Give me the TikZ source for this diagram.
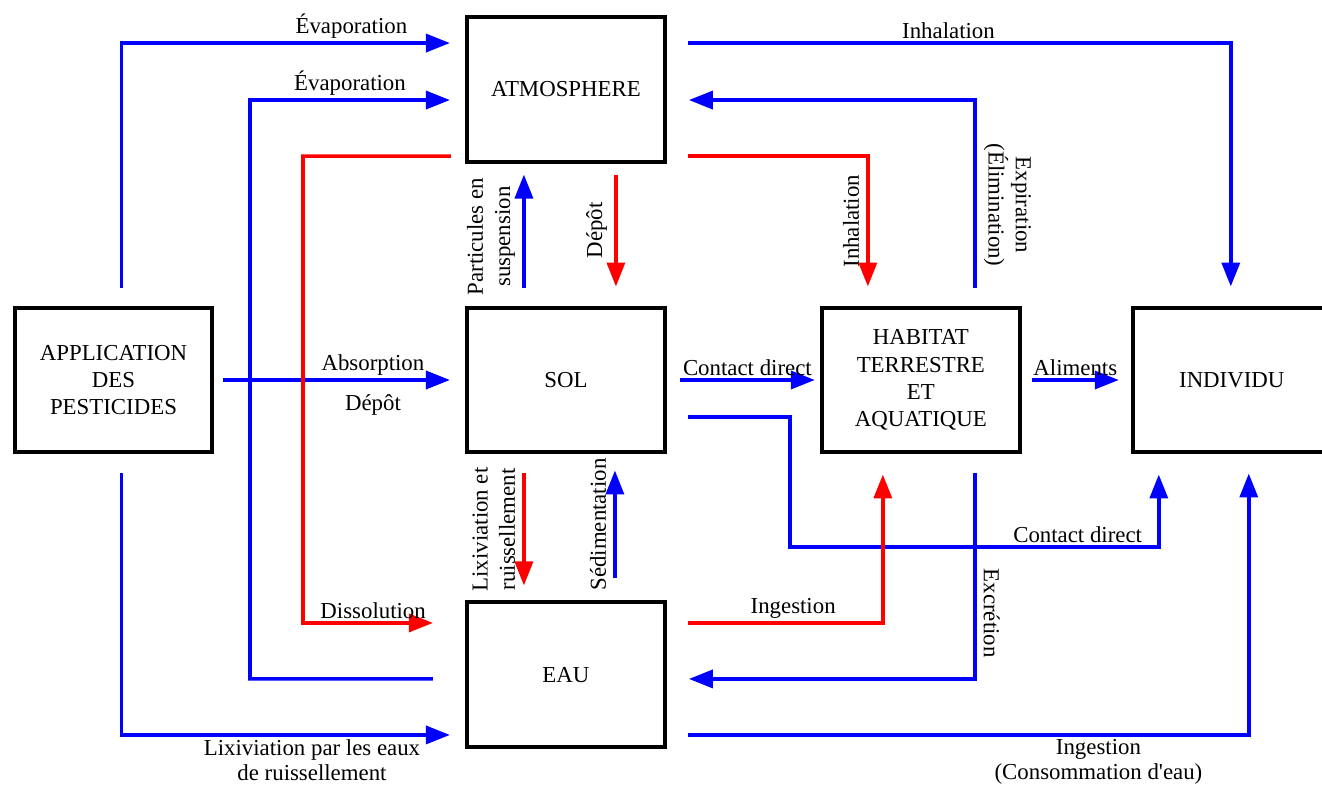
\documentclass[tikz,border=0pt]{standalone}
\usepackage{fontspec}
\setmainfont{Liberation Serif}
\usetikzlibrary{arrows,arrows.meta,positioning}
\tikzset{>={Triangle[length=0.48cm,width=0.36cm]},
         boite/.style={draw, line width=0.08cm, outer sep=0pt, inner sep=0pt,
                       minimum width=3.96cm, minimum height=2.9cm, align=center},
         fb/.style={->, draw=blue, line width=0.072cm},
         fr/.style={->, draw=red, line width=0.072cm},
         lab/.style={inner sep=1.5pt, align=center},
         vlab/.style={inner sep=4pt, align=center, rotate=90, anchor=south},
         vlabd/.style={inner sep=4pt, align=center, rotate=-90, anchor=south}}

\begin{document}
\begin{tikzpicture}[x=0.02cm, y=-0.02cm, font=\fontsize{13}{15.5}\selectfont]
	\useasboundingbox (0,0) rectangle (1322,787);

	% compartiments
	\node[boite] (app) at (113.5,380) {APPLICATION\\DES\\PESTICIDES};
	\node[boite, right=5.09cm of app] (sol) {SOL};
	\node[boite, above=2.92cm of sol] (atm) {ATMOSPHERE};
	\node[boite, below=3cm of sol] (eau) {EAU};
	\node[boite, right=3.14cm of sol] (hab) {HABITAT\\TERRESTRE\\ET\\AQUATIQUE};
	\node[boite, right=2.26cm of hab] (ind) {INDIVIDU};

	\coordinate (kEvap) at (250,100);
	\coordinate (kDissol) at (303,623);
	\coordinate (kCont) at (790,547);

	% flux depuis l'application
	\draw[fb] ([shift={(8,-20)}]app.north) |- ([shift={(-17,-46)}]atm.west)
		node[lab, above, pos=.85] (tEvapA) {Évaporation};
	\draw[fb] ([shift={(11,0)}]app.east) -- ([shift={(-17,0)}]sol.west)
		node[lab, above, pos=.66] (tAbs) {Absorption}
		node[lab, below=6pt, pos=.66] (tDepA) {Dépôt};
	\draw[fb] ([shift={(8,21)}]app.south) |- ([shift={(-17,60)}]eau.west)
		node[lab, below, pos=.79, font=\fontsize{13}{14.5}\selectfont] (tLixA) {Lixiviation par les eaux\\de ruissellement};

	% echanges atmosphere / sol / eau
	\draw[fb] ([shift={(-34,4)}]eau.west) -| (kEvap) -- ([shift={(-17,11)}]atm.west)
		node[lab, above, midway] (tEvapB) {Évaporation};
	\draw[fr] ([shift={(-16,67)}]atm.west) -| (kDissol) -- ([shift={(-34,-52)}]eau.west)
		node[lab, above, pos=.54] (tDissol) {Dissolution};
	\draw[fb] ([shift={(-42,-20)}]sol.north) -- ([shift={(-42,13)}]atm.south)
		node[vlab, pos=.45] (tPart) {Particules en\\suspension};
	\draw[fr] ([shift={(50,13)}]atm.south) -- ([shift={(50,-21)}]sol.north)
		node[vlab, midway] (tDepB) {Dépôt};
	\draw[fr] ([shift={(-42,21)}]sol.south) -- ([shift={(-42,-17)}]eau.north)
		node[vlab, midway] (tLixB) {Lixiviation et\\ruissellement};
	\draw[fb] ([shift={(49,-24)}]eau.north) -- ([shift={(49,18)}]sol.south)
		node[vlab, midway] (tSed) {Sédimentation};

	% vers l'habitat et l'individu
	\draw[fb] ([shift={(23,-46)}]atm.east) -| ([shift={(-1,-21)}]ind.north)
		node[lab, above, pos=.24] (tInhA) {Inhalation};
	\draw[fb] ([shift={(54,-20)}]hab.north) |- ([shift={(24,11)}]atm.east)
		node[vlabd, pos=.22] (tExp) {Expiration\\(Élimination)};
	\draw[fr] ([shift={(23,67)}]atm.east) -| ([shift={(-53,-21)}]hab.north)
		node[vlab, pos=.75] (tInhB) {Inhalation};
	\draw[fb] ([shift={(15,0)}]sol.east) -- ([shift={(-7,0)}]hab.west)
		node[lab, above, midway] (tContA) {Contact direct};
	\draw[fb] ([shift={(12,0)}]hab.east) -- ([shift={(-14,0)}]ind.west)
		node[lab, above, midway] (tAlim) {Aliments};
	\draw[fb] ([shift={(23,37)}]sol.east) -| (kCont) -| ([shift={(-73,22)}]ind.south)
		node[lab, above, pos=.39] (tContB) {Contact direct};
	\draw[fr] ([shift={(23,-52)}]eau.east) -| ([shift={(-38,22)}]hab.south)
		node[lab, above, pos=.27] (tIngA) {Ingestion};
	\draw[fb] ([shift={(54,21)}]hab.south) |- ([shift={(24,4)}]eau.east)
		node[vlabd, pos=.34] (tExc) {Excrétion};
	\draw[fb] ([shift={(23,60)}]eau.east) -| ([shift={(17,21)}]ind.south)
		node[lab, below, pos=.366, font=\fontsize{13}{14.5}\selectfont] (tIngB) {Ingestion\\(Consommation d\textquotesingle eau)};
\end{tikzpicture}
\end{document}
